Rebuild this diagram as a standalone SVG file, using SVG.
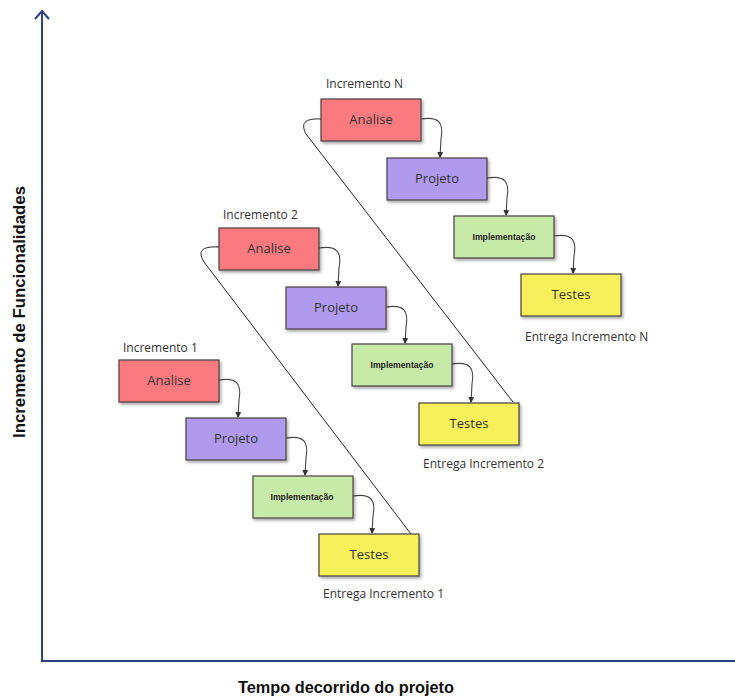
<svg xmlns="http://www.w3.org/2000/svg" width="735" height="697" viewBox="0 0 735 697">
<style>
.box{stroke:#4a4040;stroke-width:1.2;filter:url(#sh)}
.an{fill:#fb7a80}
.pr{fill:#b09aee}
.im{fill:#c8eaa8}
.te{fill:#f8f05a}
.t{font-family:"Open Sans","Liberation Sans",sans-serif;font-size:13px;fill:#333;text-anchor:middle}
.ti{font-family:"Liberation Sans",Arial,sans-serif;font-size:9px;font-weight:bold;fill:#222;text-anchor:middle}
.lbl{font-family:"Open Sans","Liberation Sans",sans-serif;font-size:12px;fill:#333}
.ax{font-family:"Liberation Sans",Arial,sans-serif;font-size:16px;font-weight:bold;fill:#111}
.c{fill:none;stroke:#444;stroke-width:1.1}
.loop{fill:none;stroke:#222;stroke-width:1}
.axis{stroke:#2a3f85;stroke-width:2;fill:none}
</style>
<defs>
<filter id="sh" x="-10%" y="-10%" width="130%" height="140%">
<feDropShadow dx="1.5" dy="2" stdDeviation="1.5" flood-color="#000" flood-opacity="0.35"/>
</filter>
<marker id="ah" markerWidth="6" markerHeight="6" refX="5" refY="3" orient="auto" markerUnits="userSpaceOnUse">
<path d="M0,0 L6,3 L0,6 Z" fill="#333"/>
</marker>
</defs>

<g id="axes">
<path class="axis" d="M42,12 L42,661 L735,661"/>
<path class="axis" d="M35,19 L42,11 L49,19"/>
<text class="ax" transform="translate(25,312) rotate(-90)" text-anchor="middle" textLength="252" lengthAdjust="spacingAndGlyphs">Incremento de Funcionalidades</text>
<text class="ax" x="346" y="693" text-anchor="middle" textLength="216" lengthAdjust="spacingAndGlyphs">Tempo decorrido do projeto</text>
</g>

<g id="connectors">
<path class="c" marker-end="url(#ah)" d="M219,380 C237,377 242,384 239,400 L238,417"/>
<path class="c" marker-end="url(#ah)" d="M286,438 C304,435 309,442 306,458 L305,475"/>
<path class="c" marker-end="url(#ah)" d="M353,496 C371,493 376,500 373,516 L372,533"/>
<path class="c" marker-end="url(#ah)" d="M319,248 C337,245 342,252 339,268 L338,286"/>
<path class="c" marker-end="url(#ah)" d="M386,307 C404,304 409,311 406,327 L405,343"/>
<path class="c" marker-end="url(#ah)" d="M452,364 C470,361 475,368 472,384 L471,402"/>
<path class="c" marker-end="url(#ah)" d="M421,119 C439,116 444,123 441,139 L440,157"/>
<path class="c" marker-end="url(#ah)" d="M487,178 C505,175 510,182 507,198 L506,215"/>
<path class="c" marker-end="url(#ah)" d="M554,236 C572,233 577,240 574,256 L573,273"/>
<path class="loop" d="M219,247 C200,246 198,252 204,262 L411,534"/>
<path class="loop" d="M322,119 C303,118 301,124 306,134 L513,402"/>
</g>

<g id="inc1">
<text class="lbl" x="123" y="352">Incremento 1</text>
<g id="inc1-analise"><rect class="box an" x="119" y="360" width="100" height="42"/><text class="t" x="169" y="385">Analise</text></g>
<g id="inc1-projeto"><rect class="box pr" x="186" y="418" width="100" height="42"/><text class="t" x="236" y="443">Projeto</text></g>
<g id="inc1-impl"><rect class="box im" x="253" y="476" width="100" height="42"/><text class="ti" x="302" y="500" textLength="63" lengthAdjust="spacingAndGlyphs">Implementação</text></g>
<g id="inc1-testes"><rect class="box te" x="319" y="534" width="100" height="42"/><text class="t" x="369" y="559">Testes</text></g>
<text class="lbl" x="323" y="598">Entrega Incremento 1</text>
</g>

<g id="inc2">
<text class="lbl" x="223" y="219">Incremento 2</text>
<g id="inc2-analise"><rect class="box an" x="219" y="228" width="100" height="42"/><text class="t" x="269" y="253">Analise</text></g>
<g id="inc2-projeto"><rect class="box pr" x="286" y="287" width="100" height="42"/><text class="t" x="336" y="312">Projeto</text></g>
<g id="inc2-impl"><rect class="box im" x="352" y="344" width="100" height="42"/><text class="ti" x="402" y="368" textLength="63" lengthAdjust="spacingAndGlyphs">Implementação</text></g>
<g id="inc2-testes"><rect class="box te" x="419" y="403" width="100" height="42"/><text class="t" x="469" y="428">Testes</text></g>
<text class="lbl" x="423" y="468">Entrega Incremento 2</text>
</g>

<g id="incN">
<text class="lbl" x="326" y="88">Incremento N</text>
<g id="incN-analise"><rect class="box an" x="321" y="99" width="100" height="42"/><text class="t" x="371" y="124">Analise</text></g>
<g id="incN-projeto"><rect class="box pr" x="387" y="158" width="100" height="42"/><text class="t" x="437" y="183">Projeto</text></g>
<g id="incN-impl"><rect class="box im" x="454" y="216" width="100" height="42"/><text class="ti" x="504" y="240" textLength="63" lengthAdjust="spacingAndGlyphs">Implementação</text></g>
<g id="incN-testes"><rect class="box te" x="521" y="274" width="100" height="42"/><text class="t" x="571" y="299">Testes</text></g>
<text class="lbl" x="525" y="341">Entrega Incremento N</text>
</g>
</svg>
